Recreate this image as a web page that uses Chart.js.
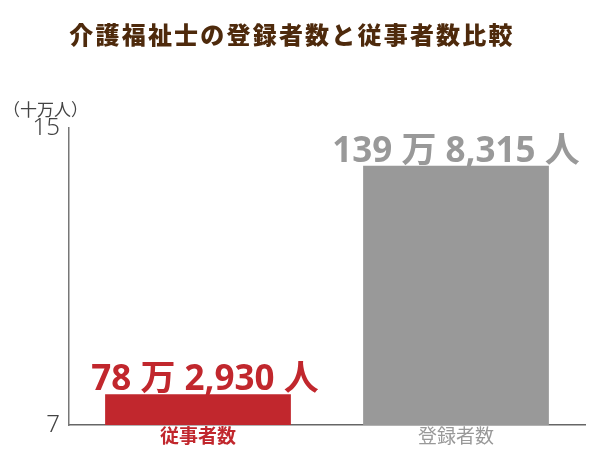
<!DOCTYPE html>
<html><head><meta charset="utf-8">
<script src="https://cdn.jsdelivr.net/npm/chart.js@4"></script>
<style>html,body{margin:0;padding:0;background:#fff}#wrap{width:600px;height:450px}</style>
</head><body><div id="wrap"><canvas id="c" width="600" height="450"></canvas></div>
<script>
const categories = ['従事者数', '登録者数'];
const values = [7.82930, 13.98315];
const valueLabels = ['78 万 2,930 人', '139 万 8,315 人'];
const yTicks = [7, 15];
const barColors = ['#c1272d', '#999999'];
const titleText = '介護福祉士の登録者数と従事者数比較';
const unitText = '（十万人）';

const FONT = '"Noto Sans", "Noto Sans CJK JP", sans-serif';

const overlay = {
  id: 'overlay',
  afterDatasetsDraw(chart) {
    const ctx = chart.ctx;
    ctx.save();
    // title
    ctx.fillStyle = '#4e2a0c';
    ctx.font = '900 24px ' + FONT;
    ctx.textAlign = 'center';
    ctx.textBaseline = 'middle';
    try { ctx.letterSpacing = '2.2px'; } catch (e) {}
    ctx.fillText(titleText, 292, 37);
    try { ctx.letterSpacing = '0px'; } catch (e) {}
    // unit
    ctx.fillStyle = '#444';
    ctx.font = '17px ' + FONT;
    ctx.textAlign = 'left';
    ctx.fillText(unitText, 3, 111);
    // value labels
    const meta = chart.getDatasetMeta(0);
    const offs = [7, 0];
    meta.data.forEach((bar, i) => {
      ctx.fillStyle = barColors[i];
      ctx.font = 'bold 35px ' + FONT;
      ctx.textAlign = 'center';
      ctx.textBaseline = 'alphabetic';
      ctx.fillText(valueLabels[i], bar.x + offs[i], bar.y - 4);
    });
    ctx.restore();
  }
};

new Chart(document.getElementById('c'), {
  type: 'bar',
  data: {
    labels: categories,
    datasets: [{
      data: values,
      backgroundColor: barColors,
      borderWidth: 0,
      barPercentage: 0.72,
      categoryPercentage: 1
    }]
  },
  options: {
    responsive: false,
    animation: false,
    devicePixelRatio: 1,
    layout: { padding: { top: 128, left: 0, right: 15, bottom: 0 } },
    plugins: { legend: { display: false }, tooltip: { enabled: false }, title: { display: false } },
    scales: {
      x: {
        grid: { display: false, drawTicks: false },
        border: { display: true, color: '#666', width: 1.5 },
        ticks: {
          padding: 3,
          color: (c) => c.index === 0 ? '#c1272d' : '#999999',
          font: (c) => ({ family: FONT, size: 19, lineHeight: 1.0, weight: c.index === 0 ? 'bold' : 'normal' })
        }
      },
      y: {
        min: 7, max: 15,
        afterBuildTicks: (s) => { s.ticks = yTicks.map(v => ({ value: v })); },
        afterFit: (s) => { s.width = 69; },
        grid: { display: false, drawTicks: false },
        border: { display: true, color: '#777', width: 1.5 },
        ticks: {
          padding: 9,
          color: '#444',
          font: { family: FONT, size: 24, weight: '300' }
        }
      }
    }
  },
  plugins: [overlay]
});
</script></body></html>
